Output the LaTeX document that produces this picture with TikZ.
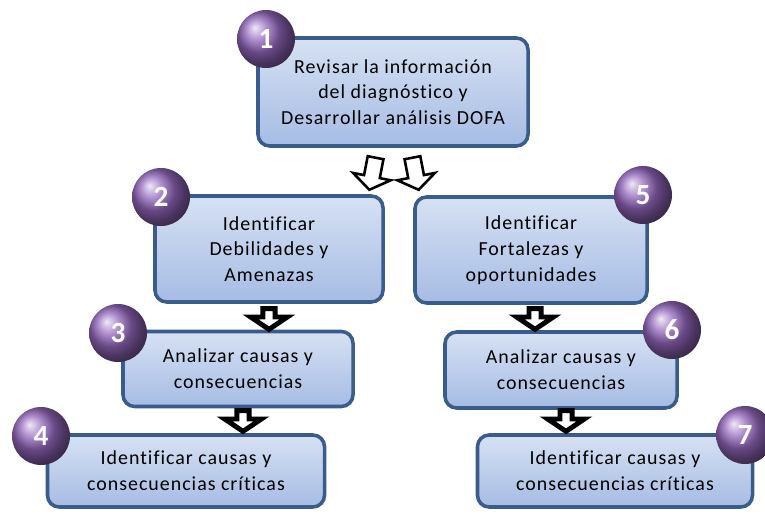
\documentclass[tikz,border=0pt]{standalone}
\usepackage{fontspec}
\setmainfont{Carlito}[Ligatures=CommonOff]
\usetikzlibrary{shapes.arrows}

\definecolor{bordeazul}{RGB}{58,92,138}
\definecolor{azulclaro}{RGB}{214,225,243}
\definecolor{azulmedio}{RGB}{166,188,228}
\definecolor{morado}{RGB}{148,104,190}

\begin{document}
\begin{tikzpicture}[x=0.03cm,y=-0.03cm,
  paso/.style={draw=bordeazul, line width=3pt, rounded corners=0.35cm,
    top color=azulclaro, bottom color=azulmedio, align=center, inner sep=0pt,
    font=\addfontfeatures{LetterSpace=5}\fontsize{17}{22}\selectfont},
  bola/.style={circle, minimum size=1.74cm, inner sep=0pt, shading=ball,
    ball color=morado, text=white, font=\fontsize{25}{25}\selectfont\bfseries},
  bajada/.style={single arrow, draw=black, line width=4.2pt, fill=white,
    rotate=-90, minimum height=0.62cm, minimum width=1.1cm, inner sep=1.4pt,
    single arrow tip angle=112},
  abierta/.style={single arrow, draw=black, line width=2.2pt, fill=white,
    minimum height=0.98cm, minimum width=1.15cm, inner sep=4pt,
    single arrow tip angle=110}
]
  \useasboundingbox (0,0) rectangle (765,515);

  % cajas
  \node[paso, minimum width=8.1cm, minimum height=3.24cm] (b1) at (393,92)
    {Revisar la información\\del diagnóstico y\\Desarrollar análisis DOFA};
  \node[paso, minimum width=6.84cm, minimum height=3.18cm] (b2) at (269,249)
    {Identificar\\Debilidades y\\Amenazas};
  \node[paso, minimum width=6.96cm, minimum height=3.18cm] (b5) at (531,250)
    {Identificar\\Fortalezas y\\oportunidades};
  \node[paso, minimum width=6.9cm, minimum height=2.25cm] (b3) at (238,369)
    {Analizar causas y\\consecuencias};
  \node[paso, minimum width=6.96cm, minimum height=2.28cm] (b6) at (561,370)
    {Analizar causas y\\consecuencias};
  \node[paso, minimum width=8.31cm, minimum height=2.16cm] (b4) at (186,471)
    {Identificar causas y\\consecuencias críticas};
  \node[paso, minimum width=8.25cm, minimum height=2.16cm] (b7) at (615,471)
    {Identificar causas y\\consecuencias críticas};

  % numeros
  \node[bola] (n1) at (266,39) {1};
  \node[bola] (n2) at (161,197) {2};
  \node[bola] (n3) at (118,333) {3};
  \node[bola] (n4) at (41,436) {4};
  \node[bola] (n5) at (643,195) {5};
  \node[bola] (n6) at (672,330) {6};
  \node[bola] (n7) at (745,435) {7};

  % flechas
  \node[abierta, rotate=-101] (f12) at (373,171) {};
  \node[abierta, rotate=-79] (f15) at (415,171) {};
  \node[bajada] (f23) at (269,317) {};
  \node[bajada] (f56) at (535,317) {};
  \node[bajada] (f34) at (243,419) {};
  \node[bajada] (f67) at (566,419) {};
\end{tikzpicture}
\end{document}
